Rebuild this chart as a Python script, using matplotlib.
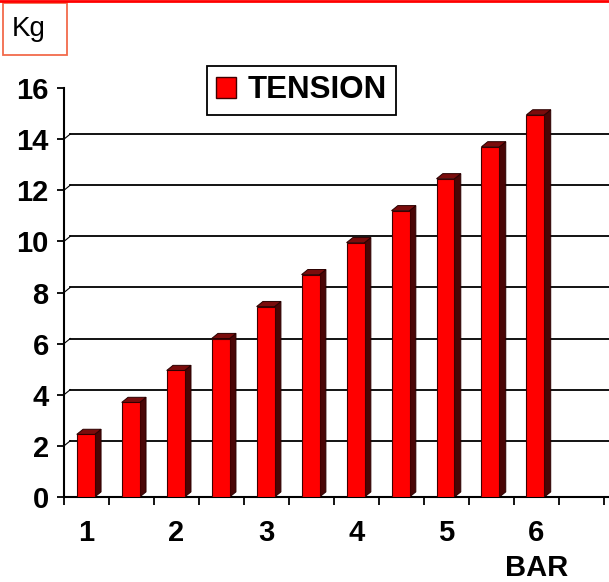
import numpy as np
import matplotlib
matplotlib.use("Agg")
import matplotlib.pyplot as plt
from matplotlib.patches import Polygon, Patch, Rectangle
from matplotlib.lines import Line2D

# data
bar_pos = [1, 1.5, 2, 2.5, 3, 3.5, 4, 4.5, 5, 5.5, 6]
tension = [2.45, 3.7, 4.95, 6.2, 7.45, 8.7, 9.95, 11.2, 12.45, 13.7, 14.95]
label_pos = [1, 2, 3, 4, 5, 6]
label_txt = ["1", "2", "3", "4", "5", "6\nBAR"]
y_ticks = [0, 2, 4, 6, 8, 10, 12, 14, 16]

plt.rcParams['font.family'] = ['Liberation Sans', 'DejaVu Sans']

W, H = 609, 582
fig = plt.figure(figsize=(W / 100, H / 100), dpi=100)
ax = fig.add_axes([64 / W, (H - 497) / H, (W - 64) / W, (497 - 88) / H])

x0, x1 = 0.75, 6.81
ax.set_xlim(x0, x1)
ax.set_ylim(0, 16)

dx, dy = 0.07, 0.2   # fake 3d depth
bw = 0.2
front = "#ff0000"
side = "#4a0606"
top = "#7a0c0c"

# back-wall gridlines
for yv in y_ticks[1:-1]:
	ax.plot([x0 + dx, x1], [yv + dy, yv + dy], color="black", lw=1.3, zorder=1)
	ax.plot([x0, x0 + dx], [yv, yv + dy], color="black", lw=0.8, zorder=1)

xs = np.array(bar_pos) - 0.008
ax.bar(xs, tension, width=bw, color=front, edgecolor="#400000", linewidth=0.8, zorder=3)
for x, v in zip(xs, tension):
	l, r = x - bw / 2, x + bw / 2
	ax.add_patch(Polygon([(r, 0), (r + dx, dy), (r + dx, v + dy), (r, v)],
		closed=True, fc=side, ec="#2a0000", lw=0.7, zorder=2))
	ax.add_patch(Polygon([(l, v), (l + dx, v + dy), (r + dx, v + dy), (r, v)],
		closed=True, fc=top, ec="#2a0000", lw=0.7, zorder=4))

ax.spines['top'].set_visible(False)
ax.spines['right'].set_visible(False)
ax.spines['left'].set_linewidth(1.5)
ax.spines['bottom'].set_linewidth(1.5)

ax.set_yticks(y_ticks)
ax.set_yticklabels([str(t) for t in y_ticks], fontsize=21, fontweight="bold")
ax.tick_params(axis="y", direction="out", length=5, width=1.3, pad=6)

ax.set_xticks(np.arange(x0, x1, 0.5))
ax.set_xticklabels([])
ax.tick_params(axis="x", which="major", direction="out", length=6, width=1.3)
ax.set_xticks(label_pos, minor=True)
ax.set_xticklabels(label_txt, minor=True, fontsize=21, fontweight="bold", linespacing=1.3)
ax.tick_params(axis="x", which="minor", length=0, pad=16)

leg = ax.legend(handles=[Patch(facecolor=front, edgecolor="#400000", label="TENSION")],
	loc="upper left", bbox_to_anchor=(0.262, 1.054), borderaxespad=0,
	fancybox=False, edgecolor="black", framealpha=1, handlelength=0.65, handleheight=0.65,
	handletextpad=0.35, borderpad=0.3, prop={'size': 22.5, 'weight': 'bold'})
leg.get_frame().set_linewidth(1.3)

# Kg box and top red rule
fig.add_artist(Rectangle((3 / W, 1 - 55 / H), 64 / W, 52 / H, transform=fig.transFigure,
	fill=False, ec="#f26a4b", lw=1.3))
fig.text(29 / W, 1 - 29 / H, "Kg", fontsize=20, ha="center", va="center")
fig.add_artist(Line2D([0, 1], [1 - 1 / H, 1 - 1 / H], transform=fig.transFigure, color="red", lw=2))

fig.savefig("out.png", dpi=100)
